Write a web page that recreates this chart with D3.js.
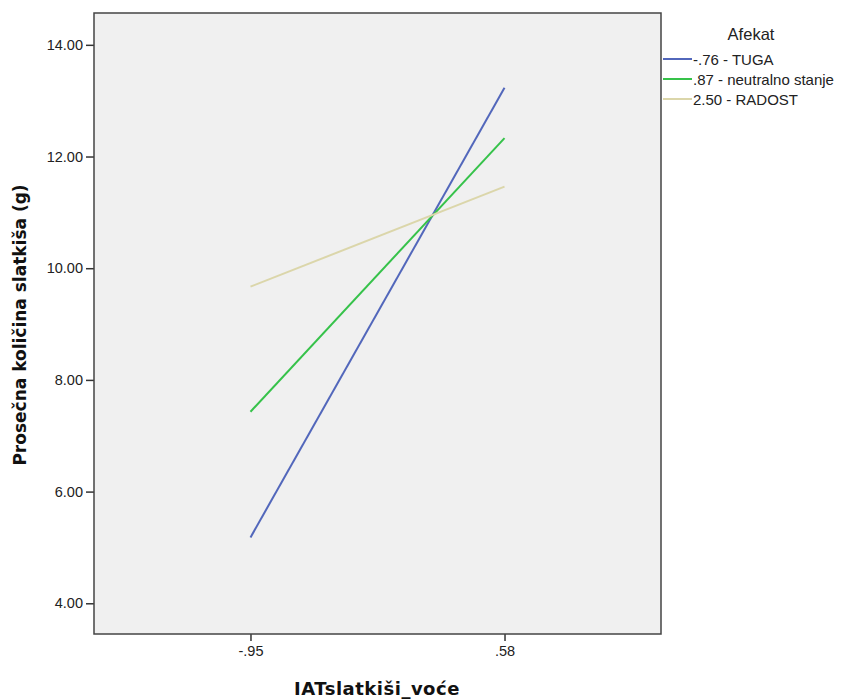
<!DOCTYPE html>
<html>
<head>
<meta charset="utf-8">
<script src="https://cdn.jsdelivr.net/npm/d3@7"></script>
<style>
  body { margin: 0; background: #fff; }
  svg { display: block; font-family: "Liberation Sans", Arial, sans-serif; }
</style>
</head>
<body>
<svg id="chart" width="841" height="700"></svg>
<script>
// ─── Data ────────────────────────────────────────────────────────────────────

const categories = ['-.95', '.58'];
const seriesNames = ['-.76 - TUGA', '.87 - neutralno stanje', '2.50 - RADOST'];
const tugaValues = [5.18, 13.23];
const neutralValues = [7.43, 12.33];
const radostValues = [9.67, 11.46];
const yTicks = [4, 6, 8, 10, 12, 14];

const seriesColors = ['#5267bb', '#36c24a', '#dbd6aa'];
const series = [tugaValues, neutralValues, radostValues].map((values, i) => ({
  name: seriesNames[i],
  color: seriesColors[i],
  points: categories.map((c, j) => ({ cat: c, value: values[j] })),
}));

// ─── Layout ──────────────────────────────────────────────────────────────────

const frame = { left: 94, top: 13, right: 661, bottom: 634 };
const svg = d3.select('#chart');

const x = d3.scalePoint()
  .domain(categories)
  .range([frame.left, frame.right])
  .padding(0.616);

const y = d3.scaleLinear()
  .domain([3.45, 14.57])
  .range([frame.bottom, frame.top]);

// plot background
svg.append('rect')
  .attr('x', frame.left).attr('y', frame.top)
  .attr('width', frame.right - frame.left)
  .attr('height', frame.bottom - frame.top)
  .attr('fill', '#f0f0f0');

// ─── Axes ────────────────────────────────────────────────────────────────────

const yAxis = svg.append('g')
  .attr('transform', `translate(${frame.left},0)`)
  .call(d3.axisLeft(y).tickValues(yTicks).tickFormat(d3.format('.2f')).tickSize(8).tickPadding(3));

const xAxis = svg.append('g')
  .attr('transform', `translate(0,${frame.bottom})`)
  .call(d3.axisBottom(x).tickSize(7).tickPadding(5));

[yAxis, xAxis].forEach(a => {
  a.select('.domain').remove();
  a.selectAll('.tick line').attr('stroke', '#333').attr('stroke-width', 1.5);
  a.selectAll('.tick text').attr('fill', '#222').style('font-size', '14.5px')
    .style('font-family', '"Liberation Sans", Arial, sans-serif');
});

// frame
svg.append('rect')
  .attr('x', frame.left).attr('y', frame.top)
  .attr('width', frame.right - frame.left)
  .attr('height', frame.bottom - frame.top)
  .attr('fill', 'none')
  .attr('stroke', '#444')
  .attr('stroke-width', 1.5);

// ─── Lines ───────────────────────────────────────────────────────────────────

const line = d3.line()
  .x(d => x(d.cat))
  .y(d => y(d.value));

svg.append('g').selectAll('path')
  .data(series)
  .join('path')
  .attr('d', d => line(d.points))
  .attr('fill', 'none')
  .attr('stroke', d => d.color)
  .attr('stroke-width', 2);

// ─── Axis titles ─────────────────────────────────────────────────────────────

svg.append('text')
  .attr('x', 377).attr('y', 695)
  .attr('text-anchor', 'middle')
  .style('font-size', '18px').style('font-weight', 'bold')
  .style('letter-spacing', '0.5px')
  .style('font-family', '"DejaVu Sans", sans-serif')
  .attr('fill', '#111')
  .text('IATslatkiši_voće');

svg.append('text')
  .attr('transform', 'translate(26,325) rotate(-90)')
  .attr('text-anchor', 'middle')
  .style('font-size', '17px').style('font-weight', 'bold')
  .style('font-family', '"DejaVu Sans", sans-serif')
  .attr('fill', '#111')
  .text('Prosečna količina slatkiša (g)');

// ─── Legend ──────────────────────────────────────────────────────────────────

const legend = svg.append('g');

legend.append('text')
  .attr('x', 751).attr('y', 40)
  .attr('text-anchor', 'middle')
  .style('font-size', '16.5px')
  .attr('fill', '#222')
  .text('Afekat');

const rows = legend.selectAll('g.row')
  .data(series)
  .join('g')
  .attr('class', 'row')
  .attr('transform', (d, i) => `translate(663,${59 + i * 20})`);

rows.append('line')
  .attr('x1', 0).attr('x2', 29)
  .attr('stroke', d => d.color)
  .attr('stroke-width', 2);

rows.append('text')
  .attr('x', 30).attr('y', 6)
  .style('font-size', '15px')
  .attr('fill', '#222')
  .text(d => d.name);
</script>
</body>
</html>
